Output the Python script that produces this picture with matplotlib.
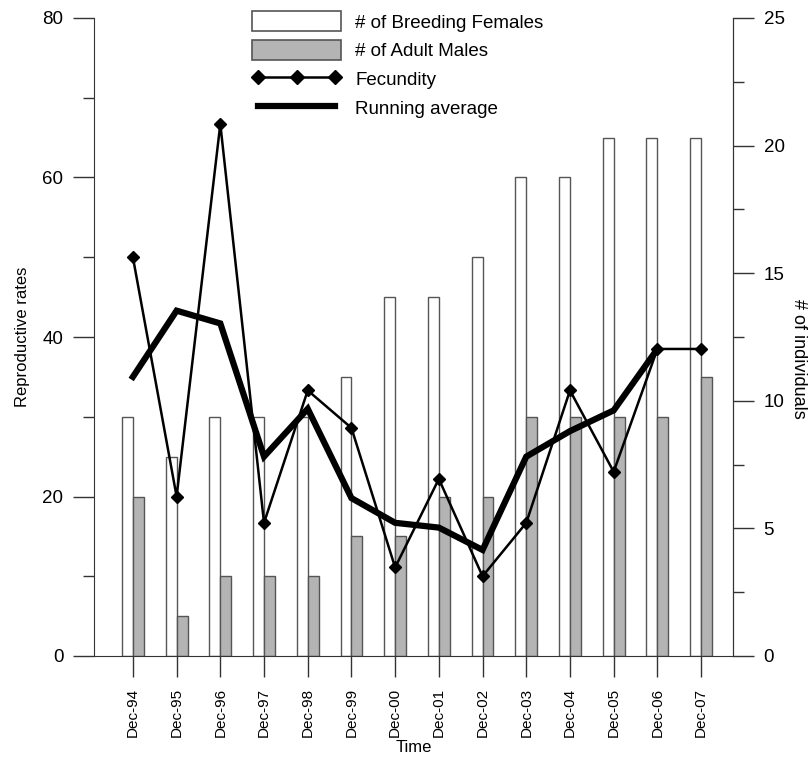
import matplotlib
matplotlib.use("Agg")
import matplotlib.pyplot as plt
import numpy as np
from matplotlib.patches import Patch
from matplotlib.lines import Line2D
from matplotlib.ticker import MultipleLocator

plt.rcParams['font.family'] = ['Liberation Sans', 'DejaVu Sans']

categories = ["Dec-94", "Dec-95", "Dec-96", "Dec-97", "Dec-98", "Dec-99", "Dec-00",
              "Dec-01", "Dec-02", "Dec-03", "Dec-04", "Dec-05", "Dec-06", "Dec-07"]
breeding_females = [30, 25, 30, 30, 30, 35, 45, 45, 50, 60, 60, 65, 65, 65]
adult_males = [20, 5, 10, 10, 10, 15, 15, 20, 20, 30, 30, 30, 30, 35]
fecundity = [50, 20, 66.7, 16.7, 33.3, 28.6, 11.1, 22.2, 10, 16.7, 33.3, 23.1, 38.5, 38.5]
running_average = [35, 43.3, 41.7, 25, 31, 19.8, 16.7, 16.1, 13.3, 25, 28.2, 30.8, 38.5]

fig = plt.figure(figsize=(8.12, 7.58), dpi=100)
ax = fig.add_axes([94/812, 102/758, (733-94)/812, (656-18)/758])
x = np.arange(len(categories))
w = 0.25
edge = "#555555"
ax.bar(x - w/2, breeding_females, w, color="white", edgecolor=edge, linewidth=1.0, zorder=2)
ax.bar(x + w/2, adult_males, w, color="#b4b4b4", edgecolor=edge, linewidth=1.0, zorder=2)
ax.plot(x, fecundity, color="black", lw=1.8, marker="D", markersize=6, zorder=3)
ax.plot(x[:len(running_average)], running_average, color="black", lw=4.5, zorder=4,
        solid_joinstyle="miter")

ax.set_xlim(-0.89, 13.73)
ax.set_ylim(0, 80)
ax.yaxis.set_major_locator(MultipleLocator(20))
ax.yaxis.set_minor_locator(MultipleLocator(10))
ax.set_xticks(x)
ax.set_xticklabels(categories, rotation=90, fontsize=11)
ax.tick_params(axis="x", length=15, width=1, color="#333333", pad=8)
ax.tick_params(axis="y", which="major", length=15, width=1, color="#333333", labelsize=13.5, pad=7)
ax.tick_params(axis="y", which="minor", length=8, width=1, color="#333333")
ax.spines["top"].set_visible(False)
for s in ["left", "bottom", "right"]:
    ax.spines[s].set_color("#333333")
ax.set_ylabel("Reproductive rates", fontsize=12, labelpad=9)
ax.set_xlabel("Time", fontsize=12, labelpad=2)

ax2 = ax.twinx()
ax2.set_ylim(0, 25)
ax2.yaxis.set_major_locator(MultipleLocator(5))
ax2.yaxis.set_minor_locator(MultipleLocator(2.5))
ax2.tick_params(axis="y", which="major", length=15, width=1, color="#333333", labelsize=13.5, pad=7)
ax2.tick_params(axis="y", which="minor", length=8, width=1, color="#333333")
ax2.spines["top"].set_visible(False)
ax2.spines["left"].set_visible(False)
ax2.spines["bottom"].set_visible(False)
ax2.spines["right"].set_color("#333333")
ax2.set_ylabel("# of individuals", fontsize=13, rotation=270, va="center")
ax2.yaxis.set_label_coords((799-94)/639, (656-359)/638)

handles = [
    Patch(facecolor="white", edgecolor=edge, linewidth=1.2),
    Patch(facecolor="#b4b4b4", edgecolor=edge, linewidth=1.2),
    Line2D([0], [0], color="black", lw=1.8, marker="D", markersize=7),
    Line2D([0], [0], color="black", lw=4.5),
]
labels = ["# of Breeding Females", "# of Adult Males", "Fecundity", "Running average"]
fig.legend(handles, labels, loc="upper left", bbox_to_anchor=(237/812, 1 + 4/758),
           frameon=False, fontsize=13.5, handlelength=4.75, handleheight=1.3,
           labelspacing=0.45, numpoints=3, handletextpad=0.75, borderpad=0.3)

fig.savefig("out.png", dpi=100)
